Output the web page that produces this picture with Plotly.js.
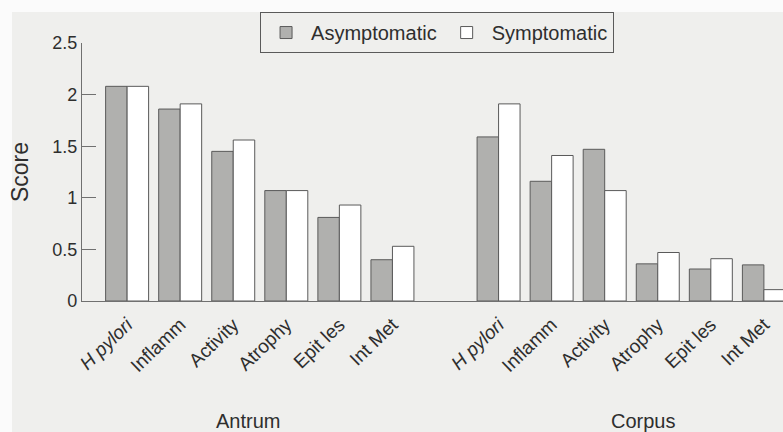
<!DOCTYPE html>
<html>
<head>
<meta charset="utf-8">
<script src="https://cdn.plot.ly/plotly-3.0.1.min.js"></script>
<style>
  html, body { margin: 0; padding: 0; background: #efefed; }
  #chart { width: 783px; height: 432px; }
</style>
</head>
<body>
<div id="chart"></div>
<script>
// Categories (same measures for both sites)
const measures = ['<i>H pylori</i>', 'Inflamm', 'Activity', 'Atrophy', 'Epit les', 'Int Met'];
const sites = ['Antrum', 'Corpus'];

// Scores
const antrumAsymptomatic = [2.08, 1.86, 1.45, 1.07, 0.81, 0.40];
const antrumSymptomatic  = [2.08, 1.91, 1.56, 1.07, 0.93, 0.53];
const corpusAsymptomatic = [1.59, 1.16, 1.47, 0.36, 0.31, 0.35];
const corpusSymptomatic  = [1.91, 1.41, 1.07, 0.47, 0.41, 0.11];

// Build category slots: antrum group, one empty slot, corpus group
const n = measures.length;
const antrumX = measures.map((_, i) => i);
const corpusX = measures.map((_, i) => i + n + 1);
const allX = antrumX.concat(corpusX);
const tickText = measures.concat(measures);

const fontFam = '"Liberation Sans", Arial, Helvetica, sans-serif';
const ink = '#2e2e2e';
const edge = '#5a5a5a';
const bg = '#efefed';

const traces = [
  {
    type: 'bar',
    name: 'Asymptomatic',
    x: allX,
    y: antrumAsymptomatic.concat(corpusAsymptomatic),
    marker: { color: '#b0b0ae', line: { color: edge, width: 1 } },
    hoverinfo: 'y'
  },
  {
    type: 'bar',
    name: 'Symptomatic',
    x: allX,
    y: antrumSymptomatic.concat(corpusSymptomatic),
    marker: { color: '#ffffff', line: { color: edge, width: 1 } },
    hoverinfo: 'y'
  }
];

const groupCentre = (xs) => (xs[0] + xs[xs.length - 1]) / 2;

const layout = {
  width: 783,
  height: 432,
  margin: { l: 82, r: 0, t: 43, b: 131 },
  paper_bgcolor: bg,
  plot_bgcolor: bg,
  font: { family: fontFam, color: ink, size: 18 },
  barmode: 'group',
  bargap: 0.19,
  bargroupgap: 0,
  showlegend: true,
  legend: {
    orientation: 'h',
    x: 0.254,
    xanchor: 'left',
    y: 1.12,
    yanchor: 'top',
    bgcolor: 'rgba(0,0,0,0)',
    bordercolor: edge,
    borderwidth: 1,
    font: { size: 20, color: ink },
    traceorder: 'normal',
    itemwidth: 40
  },
  xaxis: {
    range: [-0.85, 12.36],
    tickmode: 'array',
    tickvals: allX,
    ticktext: tickText,
    tickangle: -44,
    ticks: '',
    showgrid: false,
    zeroline: false,
    showline: true,
    linecolor: '#707070',
    linewidth: 1.2,
    tickfont: { size: 19, color: ink },
    ticklabelstandoff: 4
  },
  yaxis: {
    range: [0, 2.5],
    tickvals: [0, 0.5, 1, 1.5, 2, 2.5],
    ticktext: ['0', '0.5', '1', '1.5', '2', '2.5'],
    ticks: 'inside',
    ticklen: 14,
    tickcolor: '#707070',
    showgrid: false,
    zeroline: false,
    showline: true,
    linecolor: '#707070',
    linewidth: 1.2,
    tickfont: { size: 18, color: ink },
    title: { text: 'Score', font: { size: 23, color: ink }, standoff: 17 }
  },
  shapes: [
    { type: 'rect', xref: 'paper', yref: 'paper', layer: 'above',
      x0: -82 / 701, x1: -70 / 701, y0: -131 / 258, y1: 1 + 43 / 258,
      fillcolor: '#fbfbfb', line: { width: 0 } },
    { type: 'rect', xref: 'paper', yref: 'paper', layer: 'above',
      x0: -82 / 701, x1: 1, y0: 1 + 31 / 258, y1: 1 + 43 / 258,
      fillcolor: '#fbfbfb', line: { width: 0 } }
  ],
  annotations: [
    {
      text: sites[0], xref: 'x', yref: 'paper',
      x: groupCentre(antrumX) - 0.22, y: -0.465,
      xanchor: 'center', yanchor: 'middle', showarrow: false,
      font: { size: 20, color: ink }
    },
    {
      text: sites[1], xref: 'x', yref: 'paper',
      x: groupCentre(corpusX) + 0.22, y: -0.465,
      xanchor: 'center', yanchor: 'middle', showarrow: false,
      font: { size: 20, color: ink }
    }
  ]
};

Plotly.newPlot('chart', traces, layout, { displayModeBar: false, staticPlot: true });
</script>
</body>
</html>
